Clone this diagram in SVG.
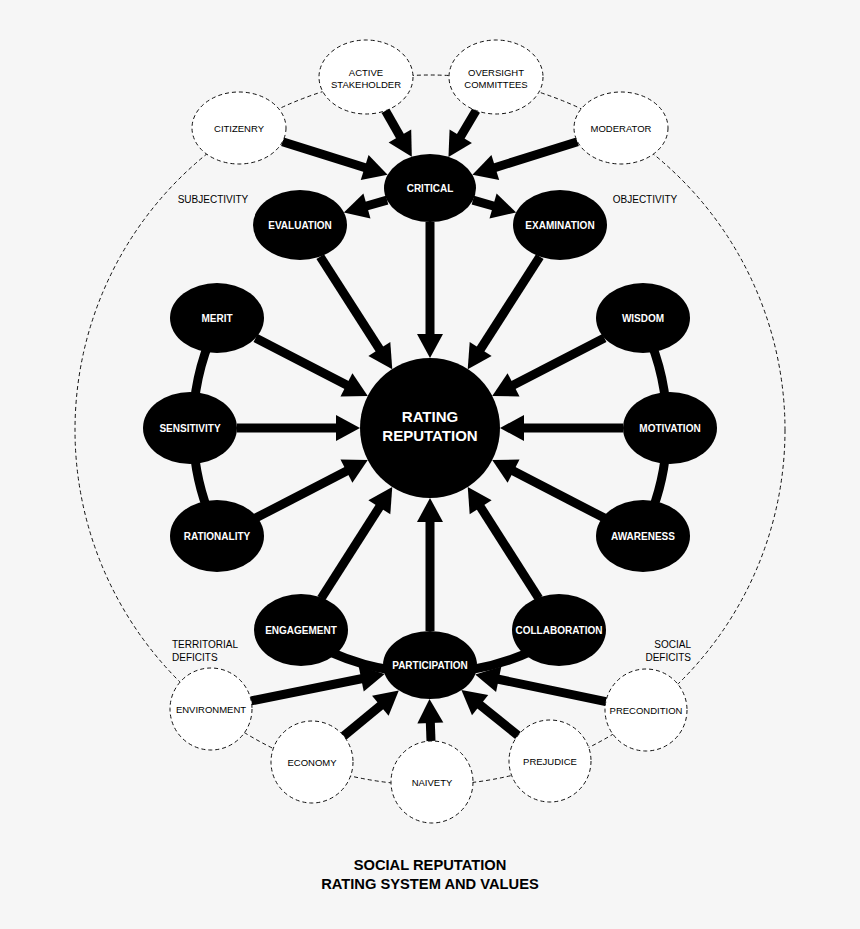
<svg xmlns="http://www.w3.org/2000/svg" width="860" height="929" viewBox="0 0 860 929">
<style>
.bg{fill:#f6f6f6}
.ring{fill:none;stroke:#111;stroke-width:1;stroke-dasharray:4 3}
.dn{fill:#fff;stroke:#111;stroke-width:1;stroke-dasharray:4 3}
.bn{fill:#000}
.bt{font-family:"Liberation Sans",Arial,sans-serif;font-weight:bold;font-size:10px;fill:#fff;text-anchor:middle}
.big{font-family:"Liberation Sans",Arial,sans-serif;font-weight:bold;font-size:15px;fill:#fff;text-anchor:middle}
.dt{font-family:"Liberation Sans",Arial,sans-serif;font-size:9.5px;fill:#000;text-anchor:middle}
.lbl{font-family:"Liberation Sans",Arial,sans-serif;font-size:10px;fill:#000}
.title{font-family:"Liberation Sans",Arial,sans-serif;font-weight:bold;font-size:14.7px;fill:#000;text-anchor:middle}
.c{fill:none;stroke:#000;stroke-width:9}
.a{fill:none;stroke:#000;stroke-width:9;marker-end:url(#ah)}
</style>
<defs>
<marker id="ah" markerUnits="userSpaceOnUse" markerWidth="24" markerHeight="26" refX="4" refY="13" orient="auto" overflow="visible">
<path d="M0,0 L24,13 L0,26 Z" fill="#000"/>
</marker>
</defs>
<rect class="bg" x="0" y="0" width="860" height="929"/>

<g id="ring">
<circle class="ring" cx="430" cy="430" r="355"/>
</g>

<g id="connectors">
<path class="c" d="M214.2,330 A237,237 0 0 0 214.2,526"/>
<path class="c" d="M645.8,330 A237,237 0 0 1 645.8,526"/>
<path class="c" d="M301,636.3 A245,245 0 0 0 559,636.3"/>
<path class="a" d="M282.5,141.7 L368.5,168.7"/>
<path class="a" d="M385.5,110.7 L401.9,139.4"/>
<path class="a" d="M476.1,110.5 L458.7,139.7"/>
<path class="a" d="M577.5,141.7 L491.5,168.7"/>
<path class="a" d="M387.1,200.2 L363.1,207"/>
<path class="a" d="M472.9,200.2 L496.9,207"/>
<path class="a" d="M430,222 L430,338"/>
<path class="a" d="M320.2,256.6 L381.5,352.3"/>
<path class="a" d="M539.8,256.6 L478.5,352.3"/>
<path class="a" d="M255.6,337.9 L350,386.7"/>
<path class="a" d="M237,428 L340,428"/>
<path class="a" d="M255.6,518.1 L350,469.3"/>
<path class="a" d="M604.4,337.9 L510,386.7"/>
<path class="a" d="M623,428 L520,428"/>
<path class="a" d="M604.4,518.1 L510,469.3"/>
<path class="a" d="M321.2,598.4 L381.5,503.9"/>
<path class="a" d="M430,631 L430,518"/>
<path class="a" d="M538.8,598.4 L478.5,503.9"/>
<path class="a" d="M251.2,700.9 L365.1,678"/>
<path class="a" d="M343.7,736 L383.4,703.2"/>
<path class="a" d="M431,741 L430.2,719"/>
<path class="a" d="M518,735.4 L477,702.6"/>
<path class="a" d="M605.9,701.6 L494.8,678.5"/>
</g>

<g id="rating"><circle class="bn" cx="430" cy="428" r="70"/><text class="big" x="430" y="422">RATING</text><text class="big" x="430" y="441">REPUTATION</text></g>
<g id="critical"><ellipse class="bn" cx="430" cy="188" rx="46" ry="34"/><text class="bt" x="430" y="191.5">CRITICAL</text></g>
<g id="evaluation"><ellipse class="bn" cx="300" cy="225" rx="47" ry="35"/><text class="bt" x="300" y="228.5">EVALUATION</text></g>
<g id="examination"><ellipse class="bn" cx="560" cy="225" rx="47" ry="35"/><text class="bt" x="560" y="228.5">EXAMINATION</text></g>
<g id="merit"><ellipse class="bn" cx="217" cy="318" rx="47" ry="35"/><text class="bt" x="217" y="321.5">MERIT</text></g>
<g id="sensitivity"><ellipse class="bn" cx="190" cy="428" rx="47" ry="36"/><text class="bt" x="190" y="431.5">SENSITIVITY</text></g>
<g id="rationality"><ellipse class="bn" cx="217" cy="536" rx="47" ry="36"/><text class="bt" x="217" y="539.5">RATIONALITY</text></g>
<g id="wisdom"><ellipse class="bn" cx="643" cy="318" rx="47" ry="35"/><text class="bt" x="643" y="321.5">WISDOM</text></g>
<g id="motivation"><ellipse class="bn" cx="670" cy="428" rx="47" ry="36"/><text class="bt" x="670" y="431.5">MOTIVATION</text></g>
<g id="awareness"><ellipse class="bn" cx="643" cy="536" rx="47" ry="36"/><text class="bt" x="643" y="539.5">AWARENESS</text></g>
<g id="engagement"><ellipse class="bn" cx="301" cy="630" rx="47" ry="36"/><text class="bt" x="301" y="633.5">ENGAGEMENT</text></g>
<g id="collaboration"><ellipse class="bn" cx="559" cy="630" rx="47" ry="36"/><text class="bt" x="559" y="633.5">COLLABORATION</text></g>
<g id="participation"><ellipse class="bn" cx="430" cy="665" rx="47" ry="34"/><text class="bt" x="430" y="668.5">PARTICIPATION</text></g>

<g id="citizenry"><ellipse class="dn" cx="239" cy="128" rx="47" ry="36"/><text class="dt" x="239" y="131.5">CITIZENRY</text></g>
<g id="active-stakeholder"><ellipse class="dn" cx="366" cy="77" rx="47" ry="37"/><text class="dt" x="366" y="76">ACTIVE</text><text class="dt" x="366" y="88">STAKEHOLDER</text></g>
<g id="oversight-committees"><ellipse class="dn" cx="496" cy="77" rx="47" ry="37"/><text class="dt" x="496" y="76">OVERSIGHT</text><text class="dt" x="496" y="88">COMMITTEES</text></g>
<g id="moderator"><ellipse class="dn" cx="621" cy="128" rx="47" ry="36"/><text class="dt" x="621" y="131.5">MODERATOR</text></g>
<g id="environment"><circle class="dn" cx="211" cy="709" r="41"/><text class="dt" x="211" y="712.5">ENVIRONMENT</text></g>
<g id="economy"><circle class="dn" cx="312" cy="762" r="41"/><text class="dt" x="312" y="765.5">ECONOMY</text></g>
<g id="naivety"><circle class="dn" cx="432" cy="782" r="41"/><text class="dt" x="432" y="785.5">NAIVETY</text></g>
<g id="prejudice"><circle class="dn" cx="550" cy="761" r="41"/><text class="dt" x="550" y="764.5">PREJUDICE</text></g>
<g id="precondition"><circle class="dn" cx="646" cy="710" r="41"/><text class="dt" x="646" y="713.5">PRECONDITION</text></g>

<g id="labels">
<text class="lbl" x="213" y="202.5" text-anchor="middle">SUBJECTIVITY</text>
<text class="lbl" x="645" y="202.5" text-anchor="middle">OBJECTIVITY</text>
<text class="lbl" x="172" y="647.5">TERRITORIAL</text>
<text class="lbl" x="172" y="660.5">DEFICITS</text>
<text class="lbl" x="691" y="647.5" text-anchor="end">SOCIAL</text>
<text class="lbl" x="691" y="660.5" text-anchor="end">DEFICITS</text>
<text class="title" x="430" y="870">SOCIAL REPUTATION</text>
<text class="title" x="430" y="889">RATING SYSTEM AND VALUES</text>
</g>
</svg>
